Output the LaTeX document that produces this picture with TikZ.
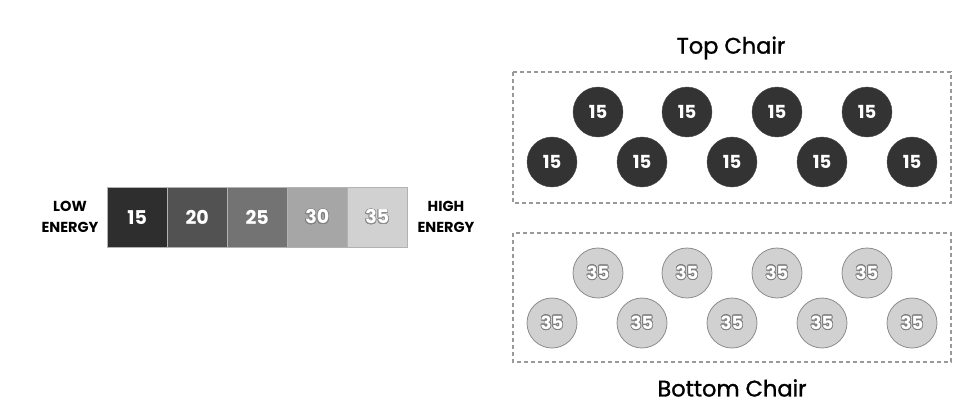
\documentclass[tikz,border=0pt]{standalone}
\usepackage{fontspec}
\setmainfont{Poppins}
\newfontfamily\titlefont[FakeBold=1.2]{Poppins}
\usepackage{contour}
\contournumber{24}
\begin{document}
\begin{tikzpicture}[x=1pt,y=-1pt,
  cell/.style={draw=gray!60,minimum width=60pt,minimum height=60pt,inner sep=0pt,anchor=north west,text=white,font=\fontsize{19}{22}\selectfont\bfseries},
  darkball/.style={circle,fill=black!80,draw=black!70,minimum size=50pt,inner sep=0pt,text=white,font=\fontsize{18}{21}\selectfont\bfseries},
  lightball/.style={circle,fill=black!18,draw=black!45,line width=0.8pt,minimum size=50pt,inner sep=0pt,text=white,font=\fontsize{18}{21}\selectfont\bfseries},
  chairbox/.style={draw=black!40,dashed,line width=1.4pt,dash pattern=on 4pt off 3pt},
  endlabel/.style={align=center,font=\fontsize{14.5}{21}\selectfont\bfseries},
  title/.style={font=\titlefont\fontsize{22.5}{26}\selectfont}
]
\useasboundingbox (0,0) rectangle (975,408);
% energy bar
\node[cell,fill=black!82] (c1) at (107,187) {15};
\node[cell,fill=black!68] (c2) at (167,187) {20};
\node[cell,fill=black!55] (c3) at (227,187) {25};
\node[cell,fill=black!35] (c4) at (287,187) {\contourlength{0.7pt}\contour{black!50}{30}};
\node[cell,fill=black!18] (c5) at (347,187) {\contourlength{0.7pt}\contour{black!45}{35}};
\node[endlabel] (low) at (70,217) {LOW\\ENERGY};
\node[endlabel] (high) at (446,217) {HIGH\\ENERGY};
% top chair
\node[title] (toptitle) at (731,48) {Top Chair};
\draw[chairbox] (513,72) rectangle (951,203);
\foreach \x [count=\i] in {598,687,777,867}
  \node[darkball] (tu\i) at (\x,112) {15};
\foreach \x [count=\i] in {552,642,732,822,912}
  \node[darkball] (tl\i) at (\x,162) {15};
% bottom chair
\draw[chairbox] (513,233) rectangle (951,362);
\foreach \x [count=\i] in {598,687,777,867}
  \node[lightball] (bu\i) at (\x,273) {\contourlength{0.7pt}\contour{black!50}{35}};
\foreach \x [count=\i] in {552,642,732,822,912}
  \node[lightball] (bl\i) at (\x,323) {\contourlength{0.7pt}\contour{black!50}{35}};
\node[title] (bottitle) at (732,388) {Bottom Chair};
\end{tikzpicture}
\end{document}
